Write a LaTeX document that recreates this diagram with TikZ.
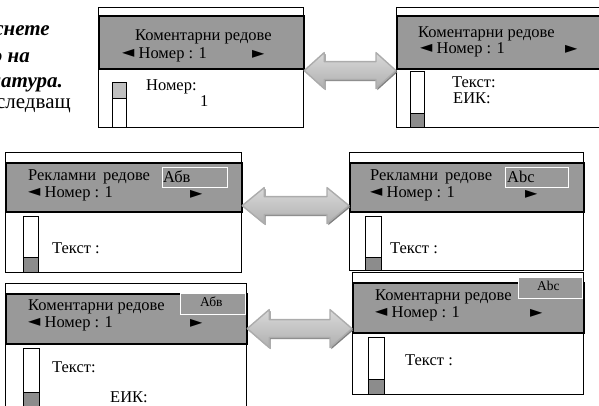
\documentclass[tikz,border=0pt]{standalone}
\usepackage{fontspec}
\setmainfont{Liberation Serif}
\newfontfamily\symfont{DejaVu Sans}
\usepackage{tikz}
\usetikzlibrary{positioning,calc,shadows}

\begin{document}
\begin{tikzpicture}[
    x=1pt, y=-1pt,
    panel/.style   ={draw, line width=1.2pt, fill=white, anchor=north west, inner sep=0pt},
    band/.style    ={draw, line width=1.6pt, fill=black!40, anchor=north west, inner sep=0pt},
    scroll/.style  ={draw, line width=1pt, fill=white, anchor=north west, minimum width=15pt, inner sep=0pt},
    thumb/.style   ={draw, line width=1pt, anchor=south west, minimum width=15pt, inner sep=0pt},
    tag/.style     ={draw=white, line width=1.4pt, fill=black!40, anchor=north west, inner sep=0pt},
    lbl/.style     ={anchor=base west, inner sep=0pt, font=\fontsize{16.5}{19}\selectfont},
    small/.style   ={anchor=base west, inner sep=0pt, font=\fontsize{13.5}{16}\selectfont},
    side/.style    ={anchor=base east, inner sep=0pt, font=\fontsize{21}{24}\selectfont},
    tri/.style     ={anchor=base west, inner sep=0pt, font=\symfont\fontsize{16}{16}\selectfont},
    dblarrow/.style={draw=gray!65, line width=1.4pt, line join=round,
                     top color=gray!30, middle color=gray!4, bottom color=gray!62,
                     drop shadow={shadow xshift=1.3pt, shadow yshift=-1.6pt, fill=black!50, opacity=1}},
  ]
  \useasboundingbox (0,0) rectangle (599,405);
  \clip (0,0) rectangle (599,405);

  % text on the left
  \node[side, font=\fontsize{21}{24}\selectfont\bfseries\itshape] (s1) at (50,35)  {снете};
  \node[side, font=\fontsize{21}{24}\selectfont\bfseries\itshape] (s2) at (30,62)  {о на};
  \node[side, font=\fontsize{21}{24}\selectfont\bfseries\itshape] (s3) at (63,87)  {натура.};
  \node[side] (s4) at (71,108) {следващ};

  % top left
  \node[panel, minimum width=205pt, minimum height=120pt] (tl) at (98,7) {};
  \node[band, minimum width=205pt, minimum height=53pt] (tlb) at ([yshift=-8pt]tl.north west) {};
  \node[lbl] (tl1) at (135,40)  {Коментарни редове};
  \node[lbl] (tl2) at (122,58)  {\raisebox{.5pt}{\symfont\fontsize{16}{16}\selectfont ◄} Номер : 1};
  \node[tri] (tl3) at (252,58.5)  {►};
  \node[scroll, minimum width=14pt, minimum height=45pt] (tls) at (112,82) {};
  \node[thumb, minimum width=14pt, minimum height=16pt, fill=black!25, anchor=north west] (tlt) at (tls.north west) {};
  \node[lbl] (tl4) at (146,90)  {Номер:};
  \node[lbl] (tl5) at (200,106) {1};

  % top right
  \node[panel, minimum width=230pt, minimum height=120pt] (tr) at (396,7) {};
  \node[band, minimum width=230pt, minimum height=53pt] (trb) at ([yshift=-8pt]tr.north west) {};
  \node[lbl] (tr1) at (418,37)  {Коментарни редове};
  \node[lbl] (tr2) at (420,53)  {\raisebox{.5pt}{\symfont\fontsize{16}{16}\selectfont ◄} Номер : 1};
  \node[tri] (tr3) at (565,53.5)  {►};
  \node[scroll, minimum width=14pt, minimum height=56pt] (trs) at (410,71) {};
  \node[thumb, minimum width=14pt, minimum height=14pt, fill=black!45] (trt) at (trs.south west) {};
  \node[lbl] (tr4) at (452,87)  {Текст:};
  \node[lbl] (tr5) at (453,103) {ЕИК:};

  % middle left
  \node[panel, minimum width=236pt, minimum height=120pt] (ml) at (5,152) {};
  \node[band, minimum width=236pt, minimum height=49pt] (mlb) at ([yshift=-10pt]ml.north west) {};
  \node[tag, minimum width=65pt, minimum height=20pt] (mlg) at (162,167) {};
  \node[lbl] (ml1) at (28,180)  {Рекламни\,\ редове};
  \node[lbl] (ml2) at (163,182) {Абв};
  \node[lbl] (ml3) at (28,197)  {\raisebox{.5pt}{\symfont\fontsize{16}{16}\selectfont ◄} Номер : 1};
  \node[tri] (ml4) at (190,198.5) {►};
  \node[scroll, minimum height=56pt] (mls) at (23,216) {};
  \node[thumb, minimum height=15pt, fill=black!45] (mlt) at (mls.south west) {};
  \node[lbl] (ml5) at (52,253)  {Текст :};

  % middle right
  \node[panel, minimum width=234pt, minimum height=118pt] (mr) at (349,152) {};
  \node[band, minimum width=234pt, minimum height=49pt] (mrb) at ([yshift=-10pt]mr.north west) {};
  \node[tag, minimum width=63pt, minimum height=20pt] (mrg) at (505,167) {};
  \node[lbl] (mr1) at (370,180) {Рекламни\,\ редове};
  \node[lbl] (mr2) at (507,182) {Abc};
  \node[lbl] (mr3) at (370,197) {\raisebox{.5pt}{\symfont\fontsize{16}{16}\selectfont ◄} Номер : 1};
  \node[tri] (mr4) at (525,198.5) {►};
  \node[scroll, minimum width=16pt, minimum height=54pt] (mrs) at (365,216) {};
  \node[thumb, minimum width=16pt, minimum height=13pt, fill=black!45] (mrt) at (mrs.south west) {};
  \node[lbl] (mr5) at (390,253) {Текст :};

  % bottom left
  \node[panel, minimum width=241pt, minimum height=130pt] (bl) at (5,283) {};
  \node[band, minimum width=241pt, minimum height=50pt] (blb) at ([yshift=-10pt]bl.north west) {};
  \node[tag, minimum width=65pt, minimum height=21pt] (blg) at (180,293) {};
  \node[small] (bl1) at (200,306) {Абв};
  \node[lbl] (bl2) at (28,310)  {Коментарни редове};
  \node[lbl] (bl3) at (28,327)  {\raisebox{.5pt}{\symfont\fontsize{16}{16}\selectfont ◄} Номер : 1};
  \node[tri] (bl4) at (190,327.5) {►};
  \node[scroll, minimum width=16pt, minimum height=62pt] (bls) at (23,348) {};
  \node[thumb, minimum width=16pt, minimum height=18pt, fill=black!45] (blt) at (bls.south west) {};
  \node[lbl] (bl5) at (52,372)  {Текст:};
  \node[lbl] (bl6) at (110,402) {ЕИК:};

  % bottom right
  \node[panel, minimum width=231pt, minimum height=122pt] (br) at (352,272) {};
  \node[band, minimum width=231pt, minimum height=50pt] (brb) at ([yshift=-10pt]br.north west) {};
  \node[tag, minimum width=64pt, minimum height=21pt] (brg) at (518,277) {};
  \node[small] (br1) at (537,290) {Abc};
  \node[lbl] (br2) at (375,300) {Коментарни редове};
  \node[lbl] (br3) at (375,317) {\raisebox{.5pt}{\symfont\fontsize{16}{16}\selectfont ◄} Номер : 1};
  \node[tri] (br4) at (530,317.5) {►};
  \node[scroll, minimum width=16pt, minimum height=57pt] (brs) at (368,337) {};
  \node[thumb, minimum width=16pt, minimum height=15pt, fill=black!45] (brt) at (brs.south west) {};
  \node[lbl] (br5) at (405,365) {Текст :};

  % double arrows between the screens
  \coordinate (a1w) at ([yshift=-3pt]tl.east);
  \coordinate (a1e) at (tr.west |- a1w);
  \draw[dblarrow] (a1w) -- ++(20,-18) -- ++(0,9) -- ($(a1e)+(-20,-9)$) -- ++(0,-9) -- (a1e)
    -- ++(-20,18) -- ++(0,-9) -- ($(a1w)+(20,9)$) -- ++(0,9) -- cycle;
  \coordinate (a2w) at ([yshift=7pt]ml.east);
  \coordinate (a2e) at (mr.west |- a2w);
  \draw[dblarrow] (a2w) -- ++(22,-18) -- ++(0,9) -- ($(a2e)+(-22,-9)$) -- ++(0,-9) -- (a2e)
    -- ++(-22,18) -- ++(0,-9) -- ($(a2w)+(22,9)$) -- ++(0,9) -- cycle;
  \coordinate (a3w) at ([yshift=20pt]bl.east);
  \coordinate (a3e) at (br.west |- a3w);
  \draw[dblarrow] (a3w) -- ++(22,-19) -- ++(0,10) -- ($(a3e)+(-22,-9)$) -- ++(0,-10) -- (a3e)
    -- ++(-22,19) -- ++(0,-10) -- ($(a3w)+(22,9)$) -- ++(0,10) -- cycle;
\end{tikzpicture}
\end{document}
